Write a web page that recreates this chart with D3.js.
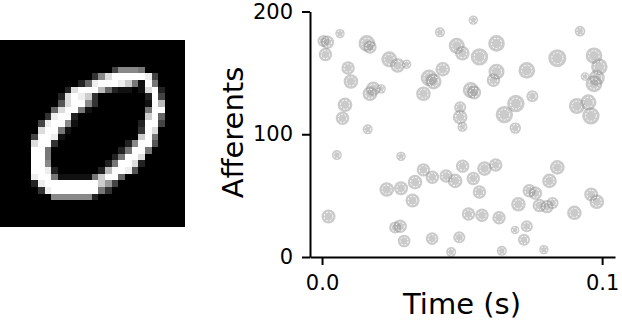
<!DOCTYPE html>
<html>
<head>
<meta charset="utf-8">
<script src="https://cdn.jsdelivr.net/npm/d3@7"></script>
<style>
  body { margin: 0; background: #fff; }
  svg { display: block; font-family: 'DejaVu Sans', sans-serif; }
</style>
</head>
<body>
<svg id="chart" width="622" height="324"></svg>
<script>
// input digit, 28 rows of 28 pixels, grey level 0-f
const digitRows = [
  '0000000000000000000000000000',
  '0000000000000000000000000000',
  '0000000000000000000000000000',
  '0000000000000000000000000000',
  '0000000000000000048887000000',
  '0000000000000038dfffffe40000',
  '00000000000026efffec71f70000',
  '00000000002dfffb621101df2000',
  '0000000002dfec300000002f4000',
  '0000000005dff8300000001fb000',
  '000000006dff71000000007ff000',
  '00000003eff20000000000cf6000',
  '0000004eff810000000002ff4000',
  '000000dff7100000000003fd0000',
  '000004ffe100000000000cf70000',
  '00000dff3000000000028ff50000',
  '00000ff7000000000027ff700000',
  '00000ff700000000027ffd000000',
  '00000ff80000000027ffd2000000',
  '00000ffe20000002bffe50000000',
  '00000eff7111117cff6000000000',
  '000002effffffffc940000000000',
  '0000003efffffff7300000000000',
  '0000000088888820000000000000',
  '0000000000000000000000000000',
  '0000000000000000000000000000',
  '0000000000000000000000000000',
  '0000000000000000000000000000'
];

// spikes: time (s), afferent index, relative amplitude
const spikeTimes = [
  0.0005, 0.0019, 0.0012, 0.0064, 0.0093, 0.0103, 0.0082, 0.0073, 0.0163, 0.0160,
  0.0171, 0.0240, 0.0270, 0.0302, 0.0183, 0.0171, 0.0211, 0.0421, 0.0382, 0.0398,
  0.0431, 0.0362, 0.0481, 0.0501, 0.0540, 0.0562, 0.0623, 0.0623, 0.0612, 0.0731,
  0.0531, 0.0543, 0.0493, 0.0493, 0.0501, 0.0692, 0.0651, 0.0751, 0.0690, 0.0840,
  0.0921, 0.0971, 0.0990, 0.0939, 0.0981, 0.0971, 0.0910, 0.0951, 0.0960, 0.0053,
  0.0282, 0.0362, 0.0394, 0.0443, 0.0475, 0.0332, 0.0231, 0.0282, 0.0323, 0.0023,
  0.0261, 0.0279, 0.0293, 0.0393, 0.0490, 0.0461, 0.0502, 0.0540, 0.0580, 0.0620,
  0.0562, 0.0523, 0.0571, 0.0632, 0.0642, 0.0701, 0.0689, 0.0731, 0.0721, 0.0740,
  0.0762, 0.0776, 0.0803, 0.0823, 0.0812, 0.0840, 0.0792, 0.0901, 0.0961, 0.0981
];
const spikeAfferents = [
  176, 175, 165, 182, 154, 143, 124, 113, 104, 174,
  171, 161, 156, 157, 137, 133, 137, 183, 146, 143,
  153, 133, 172, 166, 193, 163, 174, 151, 144, 152,
  136, 134, 122, 114, 106, 125, 116, 131, 105, 162,
  184, 164, 155, 147, 146, 141, 123, 126, 115, 83,
  82, 71, 65, 66, 62, 61, 55, 56, 46, 33,
  24, 25, 13, 15, 16, 4, 74, 64, 72, 75,
  53, 35, 34, 32, 5, 43, 22, 25, 14, 54,
  52, 42, 41, 44, 62, 73, 6, 36, 51, 45
];
const spikeAmps = [
  0.60, 0.67, 0.67, 0.47, 0.67, 0.73, 0.73, 0.67, 0.50, 0.83,
  0.67, 0.80, 0.73, 0.47, 0.73, 0.73, 0.47, 0.50, 0.83, 0.80,
  0.73, 0.73, 0.80, 0.73, 0.47, 0.87, 0.83, 0.80, 0.67, 0.83,
  0.80, 0.70, 0.60, 0.73, 0.50, 0.87, 0.87, 0.60, 0.57, 0.90,
  0.53, 0.83, 0.83, 0.43, 0.80, 0.83, 0.80, 0.80, 0.87, 0.50,
  0.47, 0.67, 0.67, 0.67, 0.73, 0.73, 0.73, 0.70, 0.70, 0.70,
  0.60, 0.67, 0.63, 0.63, 0.60, 0.50, 0.67, 0.67, 0.73, 0.67,
  0.67, 0.67, 0.67, 0.67, 0.50, 0.73, 0.43, 0.60, 0.60, 0.67,
  0.67, 0.67, 0.67, 0.60, 0.73, 0.73, 0.47, 0.73, 0.70, 0.73
];

const xTicks = [0, 0.1];
const yTicks = [0, 100, 200];

const svg = d3.select('#chart');

// ---- digit image ----
const col = d3.scaleBand().domain(d3.range(28)).range([-2, 185]);
const row = d3.scaleBand().domain(d3.range(28)).range([40, 227]);
const grey = d3.scaleLinear().domain([0, 15]).range(['#000', '#fff']);

const pixels = [];
digitRows.forEach((line, r) => {
  line.split('').forEach((ch, c) => pixels.push({ r, c, v: parseInt(ch, 16) }));
});

svg.append('g')
  .selectAll('rect')
  .data(pixels)
  .enter()
  .append('rect')
  .attr('x', (d) => col(d.c))
  .attr('y', (d) => row(d.r))
  .attr('width', col.bandwidth() + 0.4)
  .attr('height', row.bandwidth() + 0.4)
  .attr('fill', (d) => grey(d.v))
  .attr('shape-rendering', 'crispEdges');

// ---- raster ----
const x = d3.scaleLinear().domain([-0.0043, 0.1046]).range([310, 615]);
const y = d3.scaleLinear().domain([0, 200]).range([257, 11.5]);
const rad = d3.scaleLinear().domain([0, 1]).range([0, 10]);

const spikes = spikeTimes.map((t, i) => ({ t, a: spikeAfferents[i], amp: spikeAmps[i] }));

const dots = svg.append('g')
  .selectAll('g')
  .data(spikes)
  .enter()
  .append('g')
  .attr('transform', (d) => `translate(${x(d.t)},${y(d.a)})`);

dots.append('circle')
  .attr('r', (d) => rad(d.amp))
  .attr('fill', '#808080')
  .attr('fill-opacity', 0.42);

dots.append('circle')
  .attr('r', (d) => rad(d.amp) * 0.62)
  .attr('fill', 'none')
  .attr('stroke', '#fff')
  .attr('stroke-width', 1)
  .attr('stroke-dasharray', '2,1.5');

const leftAxis = d3.axisLeft(y)
  .tickValues(yTicks)
  .tickSize(8)
  .tickSizeOuter(0)
  .tickPadding(9);

const gy = svg.append('g')
  .attr('transform', 'translate(310,0)')
  .call(leftAxis);

const bottomAxis = d3.axisBottom(x)
  .tickValues(xTicks)
  .tickFormat(d3.format('.1f'))
  .tickSize(8)
  .tickSizeOuter(0)
  .tickPadding(10);

const gx = svg.append('g')
  .attr('transform', 'translate(0,257)')
  .call(bottomAxis);

[gx, gy].forEach((g) => {
  g.select('.domain').attr('stroke', '#000').attr('stroke-width', 2);
  g.selectAll('.tick line').attr('stroke', '#000').attr('stroke-width', 2);
  g.selectAll('.tick text')
    .attr('fill', '#000')
    .style('font-family', 'DejaVu Sans')
    .style('font-size', '21px');
});

svg.append('text')
  .text('Time (s)')
  .attr('x', 462)
  .attr('y', 314)
  .attr('text-anchor', 'middle')
  .style('font-size', '29px');

svg.append('text')
  .text('Afferents')
  .attr('transform', 'translate(243,132.5) rotate(-90)')
  .attr('text-anchor', 'middle')
  .style('font-size', '29px');
</script>
</body>
</html>
